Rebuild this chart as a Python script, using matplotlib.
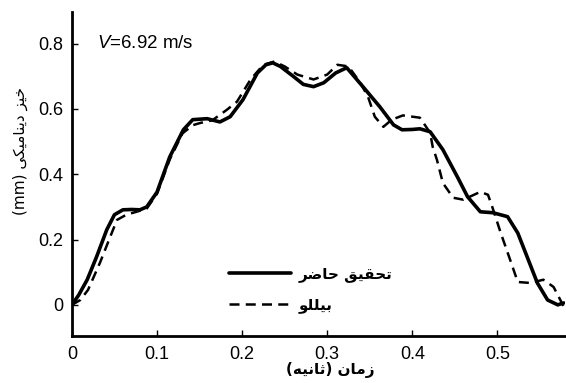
import matplotlib
matplotlib.use("Agg")
import matplotlib.pyplot as plt

plt.rcParams["font.family"] = ["Liberation Sans", "DejaVu Sans"]
plt.rcParams["mathtext.fontset"] = "custom"
plt.rcParams["mathtext.it"] = "Liberation Sans:italic"
plt.rcParams["mathtext.rm"] = "Liberation Sans"

# present study (solid)
time_present = [0, 0.008, 0.018, 0.029, 0.041, 0.050, 0.060, 0.070, 0.080, 0.088,
                0.100, 0.115, 0.131, 0.142, 0.159, 0.174, 0.186, 0.201, 0.218, 0.228,
                0.236, 0.245, 0.260, 0.272, 0.284, 0.296, 0.310, 0.323, 0.342, 0.362,
                0.378, 0.388, 0.400, 0.409, 0.421, 0.436, 0.453, 0.465, 0.480, 0.495,
                0.512, 0.524, 0.535, 0.547, 0.559, 0.571, 0.578]
defl_present = [0, 0.030, 0.077, 0.147, 0.230, 0.276, 0.291, 0.292, 0.291, 0.300,
                0.345, 0.453, 0.536, 0.567, 0.570, 0.560, 0.576, 0.628, 0.710, 0.735,
                0.741, 0.730, 0.700, 0.675, 0.668, 0.680, 0.710, 0.726, 0.668, 0.606,
                0.551, 0.536, 0.537, 0.539, 0.530, 0.475, 0.392, 0.331, 0.285, 0.282,
                0.270, 0.220, 0.147, 0.067, 0.015, 0.000, 0.006]

# Biello (dashed)
time_biello = [0, 0.010, 0.019, 0.033, 0.045, 0.053, 0.064, 0.076, 0.088, 0.100,
               0.115, 0.130, 0.142, 0.151, 0.165, 0.182, 0.194, 0.210, 0.225, 0.238,
               0.250, 0.265, 0.284, 0.300, 0.312, 0.325, 0.339, 0.348, 0.356, 0.366,
               0.376, 0.389, 0.409, 0.421, 0.424, 0.429, 0.436, 0.448, 0.460, 0.480,
               0.489, 0.494, 0.504, 0.515, 0.524, 0.539, 0.554, 0.566, 0.574, 0.578]
defl_biello = [0, 0.015, 0.046, 0.129, 0.208, 0.260, 0.276, 0.285, 0.295, 0.340,
               0.445, 0.525, 0.550, 0.557, 0.565, 0.597, 0.622, 0.690, 0.735, 0.745,
               0.730, 0.705, 0.690, 0.705, 0.735, 0.730, 0.680, 0.637, 0.576, 0.545,
               0.567, 0.580, 0.573, 0.527, 0.484, 0.444, 0.373, 0.328, 0.322, 0.346,
               0.337, 0.300, 0.220, 0.138, 0.070, 0.067, 0.077, 0.055, 0.015, -0.006]

x_ticks = [0, 0.1, 0.2, 0.3, 0.4, 0.5]
x_labels = ["0", "0.1", "0.2", "0.3", "0.4", "0.5"]
y_ticks = [0, 0.2, 0.4, 0.6, 0.8]
y_labels = ["0", "0.2", "0.4", "0.6", "0.8"]

# Persian strings, pre-shaped (presentation forms) in visual order
label_present = "\uFEAE\uFEBF\uFE8E\uFEA3 \uFED6\uFEF4\uFED8\uFEA4\uFE97"   # تحقیق حاضر
label_biello = "\uFEEE\uFEE0\uFEE0\uFEF4\uFE91"                              # بیللو
xlabel_text = "(\uFEEA\uFEF4\uFEE7\uFE8E\uFE9B) \uFEE5\uFE8E\uFEE3\uFEAF"   # زمان (ثانیه)
ylabel_text = ("(mm) \uFEF0\uFB91\uFEF4\uFEE3\uFE8E\uFEE8\uFEF3\uFEA9 "
               "\uFEB0\uFEF4\uFEA7")                                        # خیز دینامیکی (mm)

fig = plt.figure(figsize=(5.66, 3.83), dpi=100)
ax = fig.add_axes([0.127, 0.123, 0.872, 0.846])

ax.plot(time_present, defl_present, color="black", lw=2.6, label=label_present,
        solid_joinstyle="round", solid_capstyle="round")
ax.plot(time_biello, defl_biello, color="black", lw=1.8, dashes=(4, 2.5),
        label=label_biello)

ax.set_xlim(0, 0.58)
ax.set_ylim(-0.095, 0.897)
ax.set_xticks(x_ticks)
ax.set_xticklabels(x_labels)
ax.set_yticks(y_ticks)
ax.set_yticklabels(y_labels)
ax.tick_params(direction="in", length=4, width=1, labelsize=13)
ax.tick_params(axis="x", pad=7)
ax.tick_params(axis="y", pad=6)

for side in ["top", "right"]:
    ax.spines[side].set_visible(False)
for side in ["left", "bottom"]:
    ax.spines[side].set_linewidth(2)

ax.set_xlabel(xlabel_text, fontsize=11, family="DejaVu Sans", fontweight="bold")
ax.xaxis.set_label_coords(0.523, -0.08)
ax.set_ylabel(ylabel_text, fontsize=11, family="DejaVu Sans")
ax.yaxis.set_label_coords(-0.089, 0.57)

ax.text(0.03, 0.80, r"$V$=6.92 m/s", fontsize=13.5, va="center")

ax.legend(loc="upper left", bbox_to_anchor=(0.318, 0.215), frameon=False,
          borderpad=0, borderaxespad=0, handlelength=4.1, handletextpad=0.5,
          labelspacing=1.0, prop={"family": "DejaVu Sans", "size": 11, "weight": "bold"})

fig.savefig("out.png", dpi=100)
